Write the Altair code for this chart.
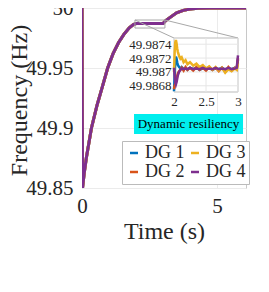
import altair as alt
import pandas as pd

FONT = "Liberation Serif"
TXT = "#262626"

# ---------------- data ----------------
series_names = ["DG 1", "DG 2", "DG 3", "DG 4"]
series_colors = ["#0072BD", "#D95319", "#EDB120", "#7E2F8E"]

t_main = [0.0, 0.02, 0.08, 0.16, 0.35, 0.55, 0.75, 0.95, 1.15, 1.35, 1.55, 1.75,
          1.9, 2.0, 3.0, 3.1, 3.25, 3.5, 3.75, 4.0, 4.3, 4.7, 6.07]
f_main = [50.0, 49.85, 49.862, 49.875, 49.9, 49.9185, 49.934, 49.950, 49.962,
          49.971, 49.978, 49.9835, 49.9862, 49.987, 49.987, 49.9895, 49.992,
          49.996, 49.998, 49.9991, 49.9997, 50.0, 50.0]

t_inset = [2.00, 2.01, 2.02, 2.03, 2.04, 2.05, 2.06, 2.08, 2.10, 2.12, 2.15, 2.18,
           2.21, 2.25, 2.30, 2.35, 2.40, 2.45, 2.50, 2.55, 2.60, 2.65, 2.70, 2.75,
           2.80, 2.85, 2.90, 2.95, 2.98, 3.00]
dg1_inset = [49.98672, 49.98695, 49.98715, 49.98722, 49.98719, 49.98714, 49.98710,
             49.98707, 49.98705, 49.98707, 49.98704, 49.98706, 49.98703, 49.98706,
             49.98704, 49.98706, 49.98703, 49.98705, 49.98704, 49.98706, 49.98703,
             49.98705, 49.98704, 49.98706, 49.98703, 49.98705, 49.98704, 49.98706,
             49.98705, 49.98718]
dg2_inset = [49.98675, 49.98680, 49.98683, 49.98686, 49.98690, 49.98694, 49.98698,
             49.98701, 49.98703, 49.98706, 49.98702, 49.98707, 49.98703, 49.98706,
             49.98702, 49.98707, 49.98703, 49.98706, 49.98702, 49.98707, 49.98703,
             49.98706, 49.98701, 49.98706, 49.98700, 49.98707, 49.98702, 49.98706,
             49.98704, 49.98720]
dg3_inset = [49.98700, 49.98728, 49.98743, 49.98746, 49.98741, 49.98734, 49.98729,
             49.98723, 49.98719, 49.98721, 49.98714, 49.98717, 49.98711, 49.98714,
             49.98709, 49.98712, 49.98707, 49.98710, 49.98705, 49.98708, 49.98703,
             49.98707, 49.98702, 49.98706, 49.98699, 49.98704, 49.98701, 49.98705,
             49.98703, 49.98712]
dg4_inset = [49.98706, 49.98694, 49.98685, 49.98682, 49.98685, 49.98690, 49.98695,
             49.98700, 49.98703, 49.98705, 49.98704, 49.98705, 49.98704, 49.98706,
             49.98704, 49.98705, 49.98704, 49.98706, 49.98704, 49.98705, 49.98704,
             49.98706, 49.98704, 49.98705, 49.98704, 49.98706, 49.98704, 49.98705,
             49.98706, 49.98724]
inset_series = [dg1_inset, dg2_inset, dg3_inset, dg4_inset]

x_ticks_main = [0, 5]
y_ticks_main = [49.85, 49.9, 49.95, 50]
x_ticks_inset = [2, 2.5, 3]
y_ticks_inset = [49.9868, 49.987, 49.9872, 49.9874]

annotation_label = "Dynamic resiliency"

# ---------------- tables ----------------
main_df = pd.DataFrame(
    [{"t": t, "f": f, "s": n} for n in series_names for t, f in zip(t_main, f_main)]
)
inset_df = pd.DataFrame(
    [{"ti": t, "fi": f, "s": n}
     for n, vals in zip(series_names, inset_series) for t, f in zip(t_inset, vals)]
)

# ---------------- scales / axes ----------------
x_main = alt.Scale(domain=[0, 6.07], nice=False, zero=False)
y_main = alt.Scale(domain=[49.85, 50.0], nice=False, zero=False)
x_ax = alt.Axis(values=x_ticks_main, format="~g", title="Time (s)", titleFontSize=24,
                titleFontWeight="normal", labelFontSize=21, labelPadding=7,
                labelFlush=False, ticks=False, domain=False, gridColor="#EBEBEB",
                titlePadding=3, labelFont=FONT, titleFont=FONT,
                labelColor=TXT, titleColor=TXT)
y_ax = alt.Axis(values=y_ticks_main, format="~g", title="Frequency (Hz)", titleFontSize=24,
                titleFontWeight="normal", labelFontSize=21, labelPadding=9,
                labelFlush=False, ticks=False, domain=False, gridColor="#EBEBEB",
                titleX=-51, titleY=92, titleAngle=270, titleBaseline="bottom",
                labelFont=FONT, titleFont=FONT, labelColor=TXT, titleColor=TXT)
color_scale = alt.Scale(domain=series_names, range=series_colors)
legend = alt.Legend(orient="none", legendX=40, legendY=133, columns=2, title="",
                    fillColor="white", strokeColor="#BBBBBB", padding=3,
                    labelFont=FONT, labelFontSize=18, labelColor=TXT,
                    symbolType="stroke", symbolStrokeWidth=2.5, symbolSize=64,
                    labelOffset=2, columnPadding=1, rowPadding=1)

X = lambda f: alt.X(f, scale=x_main, axis=x_ax)
Y = lambda f: alt.Y(f, scale=y_main, axis=y_ax)

main_layers = []
for n in series_names:
    main_layers.append(
        alt.Chart(main_df).transform_filter(alt.datum.s == n)
        .mark_line(strokeWidth=3, clip=True)
        .encode(x=X("t:Q"), y=Y("f:Q"),
                color=alt.Color("s:N", scale=color_scale, legend=legend))
    )

box_df = pd.DataFrame([{"a": 1.96, "b": 3.07, "c": 49.9833, "d": 49.990}])
box = alt.Chart(box_df).mark_rect(fillOpacity=0, stroke="#A8A8A8", strokeWidth=1).encode(
    x=X("a:Q"), x2="b", y=Y("c:Q"), y2="d")

conn_df = pd.DataFrame([
    {"a": 1.96, "b": 3.405, "c": 49.990, "d": 49.975},
    {"a": 3.07, "b": 5.773, "c": 49.990, "d": 49.975},
])
conn = alt.Chart(conn_df).mark_rule(color="#A8A8A8", strokeWidth=1).encode(
    x=X("a:Q"), x2="b", y=Y("c:Q"), y2="d")

lab_df = pd.DataFrame([{"a": 1.925, "b": 5.96, "c": 49.895, "d": 49.9117,
                        "m": 3.94, "n": 49.9033, "txt": annotation_label}])
lab_bg = alt.Chart(lab_df).mark_rect(color="#00EEEE").encode(
    x=X("a:Q"), x2="b", y=Y("c:Q"), y2="d")
lab_tx = alt.Chart(lab_df).mark_text(font=FONT, fontSize=13, color="black",
                                      align="center", baseline="middle").encode(
    x=X("m:Q"), y=Y("n:Q"), text="txt:N")

main = alt.layer(*main_layers, box, conn, lab_bg, lab_tx)

# ---------------- inset ----------------
x_in = alt.Scale(domain=[2, 3], range=[92, 156], nice=False, zero=False)
y_in = alt.Scale(domain=[49.98671, 49.98749], range=[84, 30], nice=False, zero=False)
xi_ax = alt.Axis(orient="bottom", offset=-96, values=x_ticks_inset, format="~g", title="",
                 labelFontSize=13, labelPadding=3, labelFlush=False, ticks=False,
                 domain=False, grid=False, labelFont=FONT, labelColor=TXT)
yi_ax = alt.Axis(orient="left", offset=-92, values=y_ticks_inset, format="~g", title="",
                 labelFontSize=13, labelPadding=3, labelFlush=False, ticks=False,
                 domain=False, grid=False, labelFont=FONT, labelColor=TXT)
XI = lambda f: alt.X(f, scale=x_in, axis=xi_ax)
YI = lambda f: alt.Y(f, scale=y_in, axis=yi_ax)

bg_df = pd.DataFrame([{"a": 2, "b": 3, "c": 49.98671, "d": 49.98749}])
inset_bg = alt.Chart(bg_df).mark_rect(fill="white", stroke="#BBBBBB", strokeWidth=1).encode(
    x=XI("a:Q"), x2="b", y=YI("c:Q"), y2="d")
gx_df = pd.DataFrame([{"a": v, "c": 49.98671, "d": 49.98749} for v in x_ticks_inset])
grid_x = alt.Chart(gx_df).mark_rule(color="#E6E6E6", strokeWidth=1).encode(
    x=XI("a:Q"), y=YI("c:Q"), y2="d")
gy_df = pd.DataFrame([{"a": 2, "b": 3, "c": v} for v in y_ticks_inset])
grid_y = alt.Chart(gy_df).mark_rule(color="#E6E6E6", strokeWidth=1).encode(
    x=XI("a:Q"), x2="b", y=YI("c:Q"))

inset_lines = []
for n, c in zip(series_names, series_colors):
    inset_lines.append(
        alt.Chart(inset_df).transform_filter(alt.datum.s == n)
        .mark_line(strokeWidth=2.5, color=c, clip=True)
        .encode(x=XI("ti:Q"), y=YI("fi:Q"))
    )
inset = alt.layer(inset_bg, grid_x, grid_y, *inset_lines)

chart = (
    alt.layer(main, inset)
    .resolve_scale(x="independent", y="independent")
    .properties(width=164, height=180,
                autosize=alt.AutoSizeParams(type="none"),
                padding={"left": 74, "top": 0, "right": 10, "bottom": 90})
    .configure(font=FONT)
    .configure_axis(labelFont=FONT, titleFont=FONT)
    .configure_legend(labelFont=FONT, titleFont=FONT)
    .configure_text(font=FONT)
    .configure_view(stroke="#C8C8C8")
)

chart.save("out.html", embed_options={"renderer": "svg", "actions": False})
